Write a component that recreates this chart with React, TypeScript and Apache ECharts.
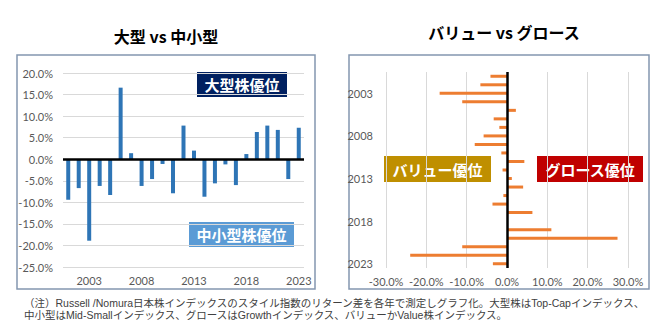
import React, { useEffect, useRef } from "react";
import * as echarts from "echarts";

const years = [
  "2001", "2002", "2003", "2004", "2005", "2006", "2007", "2008", "2009", "2010", "2011", "2012",
  "2013", "2014", "2015", "2016", "2017", "2018", "2019", "2020", "2021", "2022", "2023",
];
// 大型 - 中小型 (%)
const largeVsSmall = [
  -9.4, -6.7, -18.9, -6.2, -8.3, 16.6, 1.4, -6.2, -4.6, -1.1, -7.9, 7.8,
  2.0, -8.7, -5.6, -1.2, -6.0, 1.2, 6.3, 7.8, 6.8, -4.6, 7.3,
];
// グロース - バリュー (%)
const growthVsValue = [
  -4.1, -6.6, -16.7, -11.1, 2.2, -3.3, -1.9, -5.8, -8.0, -1.4, 4.3, -1.1,
  1.2, 4.0, -0.9, -3.6, 6.3, 0.2, 11.0, 27.4, -11.1, -24.0, -3.5,
];
const shownYears = ["2003", "2008", "2013", "2018", "2023"];

const titleLeft = "大型 vs 中小型";
const titleRight = "バリュー vs グロース";
const note1 = "（注）Russell /Nomura日本株インデックスのスタイル指数のリターン差を各年で測定しグラフ化。大型株はTop-Capインデックス、";
const note2 = "中小型はMid-Smallインデックス、グロースはGrowthインデックス、バリューかValue株インデックス。";

const JP = '"Noto Sans CJK JP", "Noto Sans", sans-serif';
const NOTE = '"Liberation Sans", "Noto Sans CJK JP", sans-serif';
const AX = 'Lato, "Noto Sans", sans-serif';

function labelBox(x: number, y: number, w: number, h: number, fill: string, text: string) {
  return {
    type: "group",
    x,
    y,
    children: [
      { type: "rect", shape: { x: 0, y: 0, width: w, height: h }, style: { fill } },
      {
        type: "text",
        x: w / 2,
        y: h / 2,
        style: {
          text,
          fill: "#ffffff",
          font: `bold 15px ${JP}`,
          align: "center",
          verticalAlign: "middle",
        },
      },
    ],
  };
}

export default function App() {
  const ref = useRef<HTMLDivElement>(null);
  useEffect(() => {
    if (!ref.current) return;
    const chart = echarts.init(ref.current, undefined, { renderer: "svg" });
    const labelStyle = { color: "#595959", fontSize: 11, fontFamily: AX };
    chart.setOption({
      animation: false,
      grid: [
        { left: 63, right: 356, top: 73, bottom: 65, containLabel: false },
        { left: 386, right: 32, top: 72, bottom: 64, containLabel: false },
      ],
      xAxis: [
        {
          type: "category",
          gridIndex: 0,
          data: years,
          boundaryGap: true,
          axisLine: { show: false, onZero: false },
          axisTick: { show: false },
          axisLabel: {
            ...labelStyle,
            margin: 8,
            interval: (_i: number, v: string) => shownYears.includes(v),
          },
        },
        {
          type: "value",
          gridIndex: 1,
          min: -30,
          max: 30,
          interval: 10,
          axisLine: { show: false },
          axisTick: { show: false },
          splitLine: { lineStyle: { color: "#d9d9d9" } },
          axisLabel: { ...labelStyle, margin: 8, formatter: (v: number) => `${v.toFixed(1)}%` },
        },
      ],
      yAxis: [
        {
          type: "value",
          gridIndex: 0,
          min: -25,
          max: 20,
          interval: 5,
          axisLine: { show: false },
          axisTick: { show: false },
          splitLine: { lineStyle: { color: "#d9d9d9" } },
          axisLabel: { ...labelStyle, margin: 10, formatter: (v: number) => `${v.toFixed(1)}%` },
        },
        {
          type: "category",
          gridIndex: 1,
          data: years,
          inverse: true,
          boundaryGap: true,
          axisLine: { show: false, onZero: false },
          axisTick: { show: false },
          axisLabel: {
            ...labelStyle,
            margin: 13,
            interval: (_i: number, v: string) => shownYears.includes(v),
          },
        },
      ],
      series: [
        {
          type: "bar",
          xAxisIndex: 0,
          yAxisIndex: 0,
          data: largeVsSmall,
          barWidth: 4,
          itemStyle: { color: "#2e75b6" },
          markLine: {
            silent: true,
            symbol: "none",
            label: { show: false },
            lineStyle: { color: "#000000", width: 2.5, type: "solid" },
            data: [{ yAxis: 0 }],
          },
        },
        {
          type: "bar",
          xAxisIndex: 1,
          yAxisIndex: 1,
          data: growthVsValue,
          barWidth: 3,
          itemStyle: { color: "#ed7d31" },
          markLine: {
            silent: true,
            symbol: "none",
            label: { show: false },
            lineStyle: { color: "#000000", width: 2.5, type: "solid" },
            data: [{ xAxis: 0 }],
          },
        },
      ],
      graphic: [
        {
          type: "rect",
          shape: { x: 17, y: 55, width: 298, height: 234 },
          style: { fill: "none", stroke: "#8497b0", lineWidth: 1.5 },
        },
        {
          type: "rect",
          shape: { x: 349, y: 55, width: 300, height: 234 },
          style: { fill: "none", stroke: "#8497b0", lineWidth: 1.5 },
        },
        {
          type: "text",
          x: 166,
          y: 36,
          style: { text: titleLeft, font: `bold 16px ${JP}`, fill: "#000000", align: "center", verticalAlign: "middle" },
        },
        {
          type: "text",
          x: 504,
          y: 32,
          style: { text: titleRight, font: `bold 16px ${JP}`, fill: "#000000", align: "center", verticalAlign: "middle" },
        },
        labelBox(197, 72, 90, 25, "#002060", "大型株優位"),
        labelBox(189, 222, 105, 25, "#5b9bd5", "中小型株優位"),
        labelBox(384, 156, 107, 26, "#bf8f00", "バリュー優位"),
        labelBox(537, 156, 106, 26, "#c00000", "グロース優位"),
        {
          type: "text",
          x: 24,
          y: 303,
          style: { text: note1, font: `10.5px ${NOTE}`, fill: "#404040", align: "left", verticalAlign: "middle" },
        },
        {
          type: "text",
          x: 24,
          y: 315,
          style: { text: note2, font: `10.5px ${NOTE}`, fill: "#404040", align: "left", verticalAlign: "middle" },
        },
      ],
    });
    return () => chart.dispose();
  }, []);
  return <div ref={ref} style={{ position: "fixed", left: 0, top: 0, width: 660, height: 332, background: "#ffffff" }} />;
}
